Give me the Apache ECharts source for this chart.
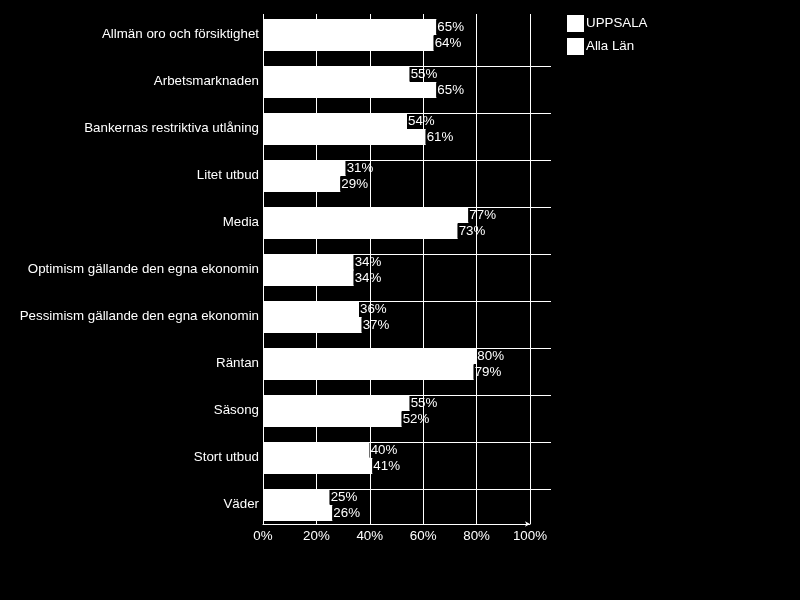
<!DOCTYPE html>
<html>
<head>
<meta charset="utf-8">
<title>Orsaker</title>
<script src="https://cdn.jsdelivr.net/npm/echarts@6/dist/echarts.min.js"></script>
<style>
  html, body { margin: 0; padding: 0; background: #000; }
  #chart { width: 800px; height: 600px; }
</style>
</head>
<body>
<div id="chart"></div>
<script>
const categories = [
  'Allmän oro och försiktighet',
  'Arbetsmarknaden',
  'Bankernas restriktiva utlåning',
  'Litet utbud',
  'Media',
  'Optimism gällande den egna ekonomin',
  'Pessimism gällande den egna ekonomin',
  'Räntan',
  'Säsong',
  'Stort utbud',
  'Väder'
]
const uppsala = [65, 55, 54, 31, 77, 34, 36, 80, 55, 40, 25]
const allaLan = [64, 65, 61, 29, 73, 34, 37, 79, 52, 41, 26]
const xTicks = [0, 20, 40, 60, 80, 100]

const font = 'Liberation Sans, Arial, sans-serif'
const fs = 13.33

const barLabel = () => ({
  show: true,
  position: 'right',
  distance: 0,
  formatter: '{c}%',
  color: '#fff',
  fontSize: fs,
  fontFamily: font,
  backgroundColor: '#000',
  padding: [1, 1, 0, 1]
})

const chart = echarts.init(document.getElementById('chart'))

chart.setOption({
  backgroundColor: '#000',
  animation: false,
  legend: {
    data: ['UPPSALA', 'Alla Län'],
    orient: 'vertical',
    left: 567,
    top: 15,
    padding: 0,
    itemWidth: 17,
    itemHeight: 17,
    itemGap: 6,
    icon: 'rect',
    textStyle: { color: '#fff', fontSize: fs, fontFamily: font, padding: [0, 0, 0, -3] }
  },
  grid: [
    // bars + category rows (47px per row)
    { left: 263, top: 19, width: 288, height: 517 },
    // value axis, gridlines
    { left: 263, top: 14, width: 267, height: 510 }
  ],
  xAxis: [
    { gridIndex: 0, type: 'value', min: 0, max: 108, show: false },
    {
      gridIndex: 1,
      type: 'value',
      min: xTicks[0],
      max: xTicks[xTicks.length - 1],
      interval: 20,
      z: 5,
      axisLine: {
        show: true,
        lineStyle: { color: '#fff', width: 1 },
        symbol: ['none', 'arrow'],
        symbolSize: [4, 5]
      },
      axisTick: { show: false },
      axisLabel: { color: '#fff', fontSize: fs, fontFamily: font, margin: 6, formatter: '{value}%' },
      splitLine: { show: true, lineStyle: { color: '#fff', width: 1 } }
    }
  ],
  yAxis: [
    {
      gridIndex: 0,
      type: 'category',
      inverse: true,
      data: categories,
      axisLine: { show: false },
      axisTick: { show: false },
      axisLabel: {
        color: '#fff',
        fontSize: fs,
        fontFamily: font,
        margin: 4,
        verticalAlign: 'bottom',
        lineHeight: 17
      },
      splitLine: {
        show: true,
        interval: 0,
        showMinLine: false,
        showMaxLine: false,
        lineStyle: { color: '#fff', width: 1 }
      }
    },
    { gridIndex: 1, type: 'value', show: false }
  ],
  series: [
    {
      name: 'UPPSALA',
      type: 'bar',
      xAxisIndex: 0,
      yAxisIndex: 0,
      data: uppsala,
      barWidth: 16,
      barGap: '0%',
      itemStyle: { color: '#fff' },
      label: barLabel()
    },
    {
      name: 'Alla Län',
      type: 'bar',
      xAxisIndex: 0,
      yAxisIndex: 0,
      data: allaLan,
      barWidth: 16,
      barGap: '0%',
      itemStyle: { color: '#fff' },
      label: barLabel()
    },
    // empty spacer so the pair sits at the top of each row
    {
      name: 'spacer',
      type: 'bar',
      xAxisIndex: 0,
      yAxisIndex: 0,
      data: [],
      barWidth: 15,
      barGap: '0%',
      itemStyle: { color: 'rgba(0,0,0,0)' },
      silent: true
    }
  ]
})
</script>
</body>
</html>
